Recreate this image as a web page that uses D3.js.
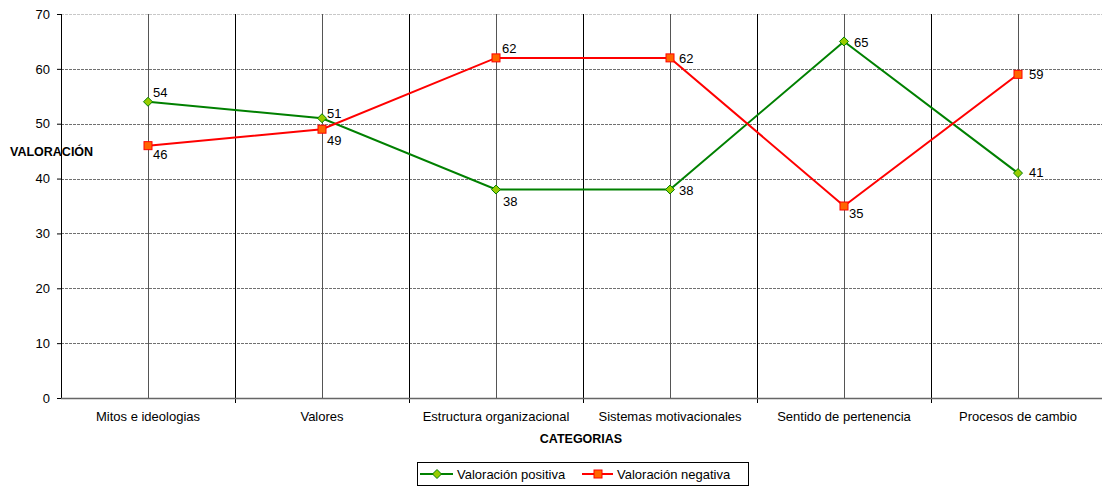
<!DOCTYPE html>
<html>
<head>
  <script src="https://d3js.org/d3.v7.min.js"></script>
  <style>
    body { margin: 0; background: #fff; }
    svg { display: block; font-family: "Liberation Sans", Arial, sans-serif; }
    .tick text { fill: #000; font-size: 13px; }
    .lbl { font-size: 13px; fill: #000; }
    .ttl { font-size: 12.5px; font-weight: bold; fill: #000; }
  </style>
</head>
<body>
  <svg id="chart" width="1102" height="486"></svg>
  <script>
    // data
    var categories = ["Mitos e ideologias", "Valores", "Estructura organizacional",
      "Sistemas motivacionales", "Sentido de pertenencia", "Procesos de cambio"];
    var positiva = [54, 51, 38, 38, 65, 41];
    var negativa = [46, 49, 62, 62, 35, 59];
    var yTicks = [0, 10, 20, 30, 40, 50, 60, 70];

    // label offsets (layout only)
    var posOffsets = [[5, -5], [5, 0], [7, 16], [9, 5], [10, 6], [11, 4]];
    var negOffsets = [[5, 13], [5, 16], [6, -5], [9, 5], [5, 12], [11, 5]];

    var margin = { top: 14, left: 61 };
    var plotW = 1044, plotH = 384;

    var svg = d3.select("#chart");
    var g = svg.append("g").attr("transform", "translate(" + margin.left + "," + margin.top + ")");

    var x = d3.scaleBand().domain(categories).range([0, plotW]);
    var y = d3.scaleLinear().domain([0, 70]).range([plotH, 0]);
    var cx = function(i) { return x(categories[i]) + x.bandwidth() / 2; };

    // horizontal gridlines
    g.selectAll(".hgrid").data(yTicks.filter(function(d) { return d > 0; }))
      .enter().append("line")
      .attr("x1", 0).attr("x2", plotW)
      .attr("y1", function(d) { return Math.round(y(d)) + 0.5; })
      .attr("y2", function(d) { return Math.round(y(d)) + 0.5; })
      .attr("stroke", function(d) { return d === 70 ? "#c8c8c8" : "#707070"; })
      .attr("stroke-dasharray", "3,1");

    // vertical lines at category centers
    g.selectAll(".vc").data(categories).enter().append("line")
      .attr("x1", function(d) { return Math.round(x(d) + x.bandwidth() / 2) + 0.5; })
      .attr("x2", function(d) { return Math.round(x(d) + x.bandwidth() / 2) + 0.5; })
      .attr("y1", 0).attr("y2", plotH)
      .attr("stroke", "#555");

    // vertical lines at category boundaries (with ticks below axis)
    g.selectAll(".vb").data(categories.slice(1)).enter().append("line")
      .attr("x1", function(d) { return Math.round(x(d)) + 0.5; })
      .attr("x2", function(d) { return Math.round(x(d)) + 0.5; })
      .attr("y1", 0).attr("y2", plotH + 5)
      .attr("stroke", "#000");

    // y axis
    var yAxis = g.append("g")
      .call(d3.axisLeft(y).tickValues(yTicks).tickSize(4).tickPadding(7));
    yAxis.select(".domain").attr("stroke", "#000").attr("d", "M0.5,0V" + plotH);
    yAxis.selectAll(".tick line").attr("stroke", "#000");

    // x axis
    var xAxis = g.append("g").attr("transform", "translate(0," + plotH + ")")
      .call(d3.axisBottom(x).tickSize(0).tickPadding(14));
    xAxis.select(".domain").attr("stroke", "#666").attr("stroke-width", 1.5).attr("d", "M0,0.5H" + plotW);

    // lines
    var line = d3.line().x(function(d, i) { return cx(i); }).y(function(d) { return y(d); });

    g.append("path").datum(positiva)
      .attr("fill", "none").attr("stroke", "#008000").attr("stroke-width", 2).attr("d", line);
    g.append("path").datum(negativa)
      .attr("fill", "none").attr("stroke", "#ff0000").attr("stroke-width", 2).attr("d", line);

    // markers
    var diamond = "M0,-4.5L4.5,0L0,4.5L-4.5,0Z";
    g.selectAll(".mp").data(positiva).enter().append("path")
      .attr("d", diamond)
      .attr("transform", function(d, i) { return "translate(" + cx(i) + "," + y(d) + ")"; })
      .attr("fill", "#99cc00").attr("stroke", "#008000").attr("stroke-width", 1);
    g.selectAll(".mn").data(negativa).enter().append("rect")
      .attr("x", function(d, i) { return cx(i) - 4; })
      .attr("y", function(d) { return y(d) - 4; })
      .attr("width", 8).attr("height", 8)
      .attr("fill", "#ff6600").attr("stroke", "#ff0000").attr("stroke-width", 1);

    // data labels
    g.selectAll(".lp").data(positiva).enter().append("text")
      .attr("class", "lbl")
      .attr("x", function(d, i) { return cx(i) + posOffsets[i][0]; })
      .attr("y", function(d, i) { return y(d) + posOffsets[i][1]; })
      .text(function(d) { return d; });
    g.selectAll(".ln").data(negativa).enter().append("text")
      .attr("class", "lbl")
      .attr("x", function(d, i) { return cx(i) + negOffsets[i][0]; })
      .attr("y", function(d, i) { return y(d) + negOffsets[i][1]; })
      .text(function(d) { return d; });

    // axis titles
    svg.append("text").attr("class", "ttl").attr("x", 10).attr("y", 156).text("VALORACIÓN");
    svg.append("text").attr("class", "ttl").attr("x", 581).attr("y", 443)
      .attr("text-anchor", "middle").text("CATEGORIAS");

    // legend
    var leg = svg.append("g");
    leg.append("rect").attr("x", 417.5).attr("y", 462.5).attr("width", 331).attr("height", 23)
      .attr("fill", "#fff").attr("stroke", "#000");
    leg.append("line").attr("x1", 420).attr("x2", 453).attr("y1", 474).attr("y2", 474)
      .attr("stroke", "#008000").attr("stroke-width", 2);
    leg.append("path").attr("d", diamond).attr("transform", "translate(437,474)")
      .attr("fill", "#99cc00").attr("stroke", "#008000");
    leg.append("text").attr("class", "lbl").attr("x", 457).attr("y", 478.5).text("Valoración positiva");
    leg.append("line").attr("x1", 582).attr("x2", 613).attr("y1", 474).attr("y2", 474)
      .attr("stroke", "#ff0000").attr("stroke-width", 2);
    leg.append("rect").attr("x", 594).attr("y", 470).attr("width", 8).attr("height", 8)
      .attr("fill", "#ff6600").attr("stroke", "#ff0000");
    leg.append("text").attr("class", "lbl").attr("x", 617).attr("y", 478.5).text("Valoración negativa");
  </script>
</body>
</html>
